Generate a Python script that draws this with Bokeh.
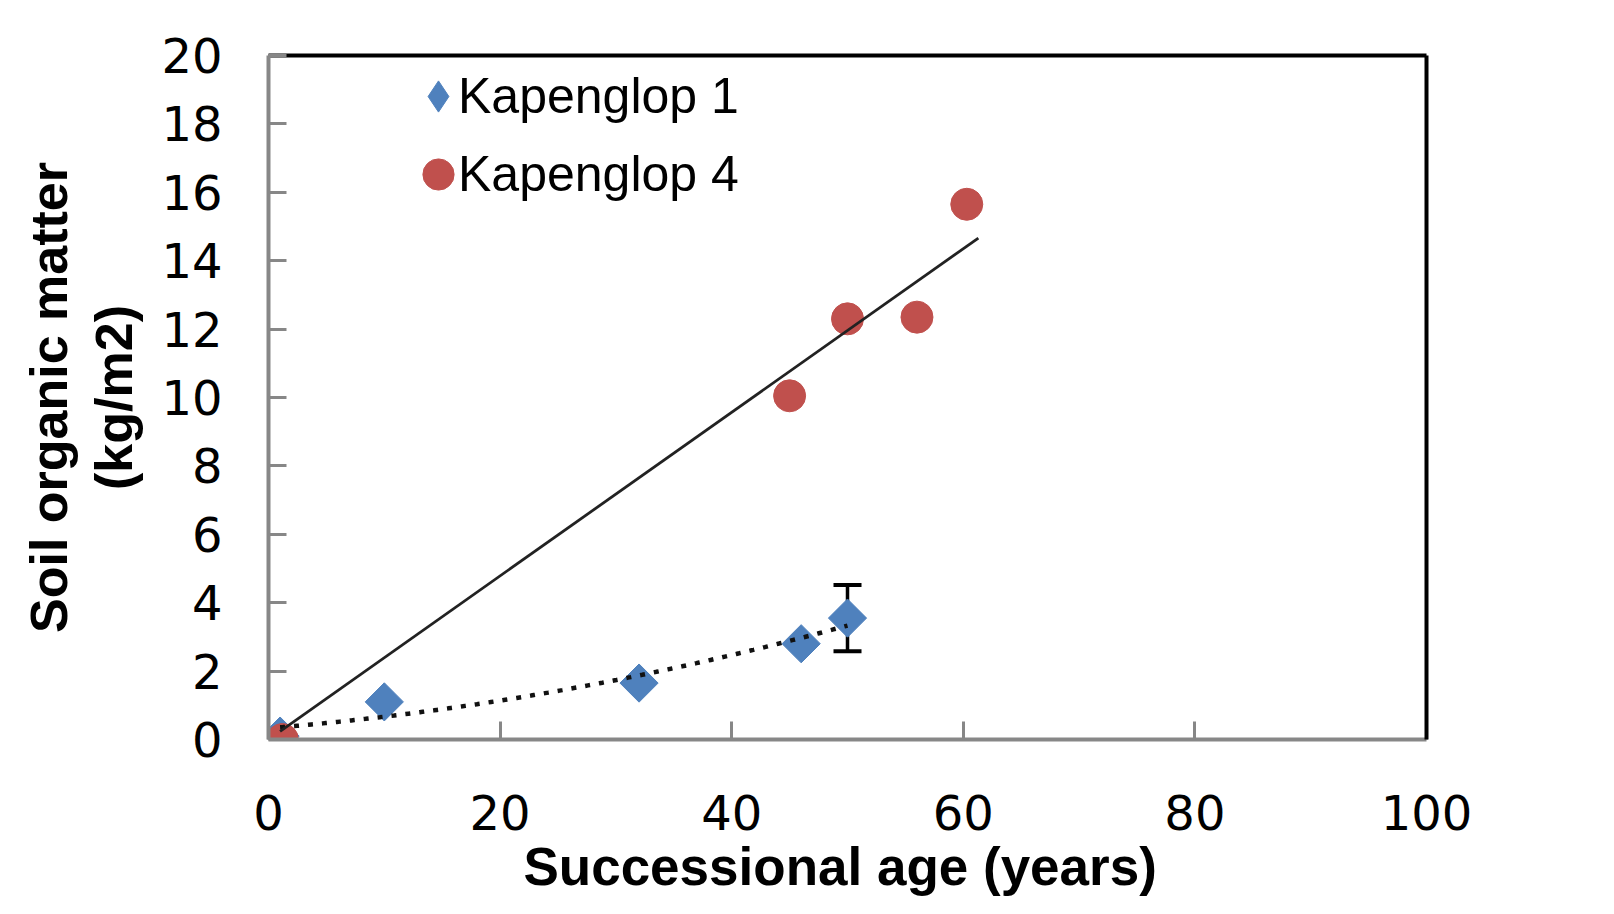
import numpy as np
from bokeh.plotting import figure
from bokeh.models import (Range1d, LinearAxis, FixedTicker, ColumnDataSource,
                          Whisker, TeeHead, Legend, LegendItem)
from bokeh.embed import file_html
from bokeh.resources import INLINE

# ---------------- data ----------------
k1_age = [1, 10, 32, 46, 50]
k1_som = [0.1, 1.1, 1.65, 2.8, 3.55]
k1_err = [0, 0, 0, 0, 0.97]

k4_age = [1.2, 45, 50, 56, 60.3]
k4_som = [0.0, 10.05, 12.3, 12.35, 15.65]
k4_trend_span = [1, 61.3]          # extent of the linear (zero-intercept) trendline

series_names = ["Kapenglop 1", "Kapenglop 4"]
x_ticks = [0, 20, 40, 60, 80, 100]
y_ticks = [0, 2, 4, 6, 8, 10, 12, 14, 16, 18, 20]
x_title = "Successional  age (years)"
y_title = "Soil organic matter\n(kg/m2)"

BLUE = "#4F81BD"
RED = "#C0504D"
GRAY = "#878787"

# ---------------- trendlines derived from the data ----------------
poly = np.polyfit(k1_age, k1_som, 2)
fx1 = np.linspace(min(k1_age), max(k1_age), 200)
fy1 = np.polyval(poly, fx1)

xa = np.array(k4_age, dtype=float)
ya = np.array(k4_som, dtype=float)
slope4 = float(np.dot(xa, ya) / np.dot(xa, xa))
fx4 = np.array(k4_trend_span, dtype=float)
fy4 = slope4 * fx4

# ---------------- figure ----------------
p = figure(width=1598, height=898, x_range=Range1d(0, 100), y_range=Range1d(0, 20),
           output_backend="svg", toolbar_location=None,
           min_border_left=268, min_border_right=172,
           min_border_top=55, min_border_bottom=159)
p.outline_line_color = None
p.grid.visible = False
p.background_fill_color = "white"
p.border_fill_color = "white"

p.xaxis[0].ticker = FixedTicker(ticks=x_ticks)
p.yaxis[0].ticker = FixedTicker(ticks=y_ticks)
p.xaxis[0].axis_label = x_title
p.yaxis[0].axis_label = y_title

for ax in (p.xaxis[0], p.yaxis[0]):
    ax.axis_line_color = GRAY
    ax.axis_line_width = 4
    ax.major_tick_line_color = GRAY
    ax.major_tick_line_width = 3
    ax.major_tick_in = 18
    ax.major_tick_out = 0
    ax.minor_tick_line_color = None
    ax.major_label_text_font = "DejaVu Sans"
    ax.major_label_text_font_size = "48px"
    ax.major_label_text_color = "black"
    ax.axis_label_text_font = "Liberation Sans"
    ax.axis_label_text_font_style = "bold"
    ax.axis_label_text_color = "black"

p.xaxis[0].major_label_standoff = 55
p.xaxis[0].axis_label_standoff = 4
p.xaxis[0].axis_label_text_font_size = "53px"
p.yaxis[0].major_label_standoff = 46
p.yaxis[0].axis_label_standoff = 15
p.yaxis[0].axis_label_text_font_size = "52px"
p.yaxis[0].axis_label_text_line_height = 1.12

# black frame on top and right
for loc in ("above", "right"):
    ax = LinearAxis(ticker=FixedTicker(ticks=[]), axis_line_color="black",
                    axis_line_width=4, major_tick_line_color=None,
                    minor_tick_line_color=None, major_label_text_font_size="0px")
    p.add_layout(ax, loc)

# error bars
err_x = [a for a, e in zip(k1_age, k1_err) if e > 0]
err_lo = [s - e for s, e in zip(k1_som, k1_err) if e > 0]
err_hi = [s + e for s, e in zip(k1_som, k1_err) if e > 0]
err_src = ColumnDataSource(dict(x=err_x, lower=err_lo, upper=err_hi))
p.add_layout(Whisker(base="x", lower="lower", upper="upper", source=err_src,
                     dimension="height", line_color="black", line_width=3.5,
                     upper_head=TeeHead(size=28, line_width=4, line_color="black"),
                     lower_head=TeeHead(size=28, line_width=4, line_color="black")))

# markers
src1 = ColumnDataSource(dict(x=k1_age, y=k1_som))
src4 = ColumnDataSource(dict(x=k4_age, y=k4_som))
r1 = p.scatter("x", "y", source=src1, marker="square", angle=np.pi / 4, size=27,
               fill_color=BLUE, line_color=BLUE)
r4 = p.scatter("x", "y", source=src4, marker="circle", size=32,
               fill_color=RED, line_color=RED)

# trendlines
p.line(fx1, fy1, line_color="#111111", line_width=4.5, line_dash="5 9")
p.line(fx4, fy4, line_color="#222222", line_width=2.8)

# legend proxies (legend draws markers unrotated; nothing drawn in the plot)
leg1 = p.scatter(x=[np.nan], y=[np.nan], marker="diamond", size=30,
                 fill_color=BLUE, line_color=BLUE)
leg_blank = p.scatter(x=[np.nan], y=[np.nan], marker="circle", size=1,
                      fill_alpha=0, line_alpha=0)

common = dict(orientation="vertical", padding=0, margin=0, spacing=0,
              glyph_height=78, label_standoff=0,
              label_text_font="Liberation Sans", label_text_font_size="50px",
              label_text_color="black", background_fill_alpha=0,
              border_line_alpha=0)

# symbols of the legend
legend_sym = Legend(items=[LegendItem(label="", renderers=[leg1]),
                           LegendItem(label="", renderers=[r4])],
                    location=(130, 526), glyph_width=80, **common)
# texts of the legend
legend_txt = Legend(items=[LegendItem(label=series_names[0], renderers=[leg_blank]),
                           LegendItem(label=series_names[1], renderers=[leg_blank])],
                    location=(189, 526), glyph_width=1, **common)
p.add_layout(legend_sym)
p.add_layout(legend_txt)

open("out.html", "w").write(file_html(p, INLINE))
